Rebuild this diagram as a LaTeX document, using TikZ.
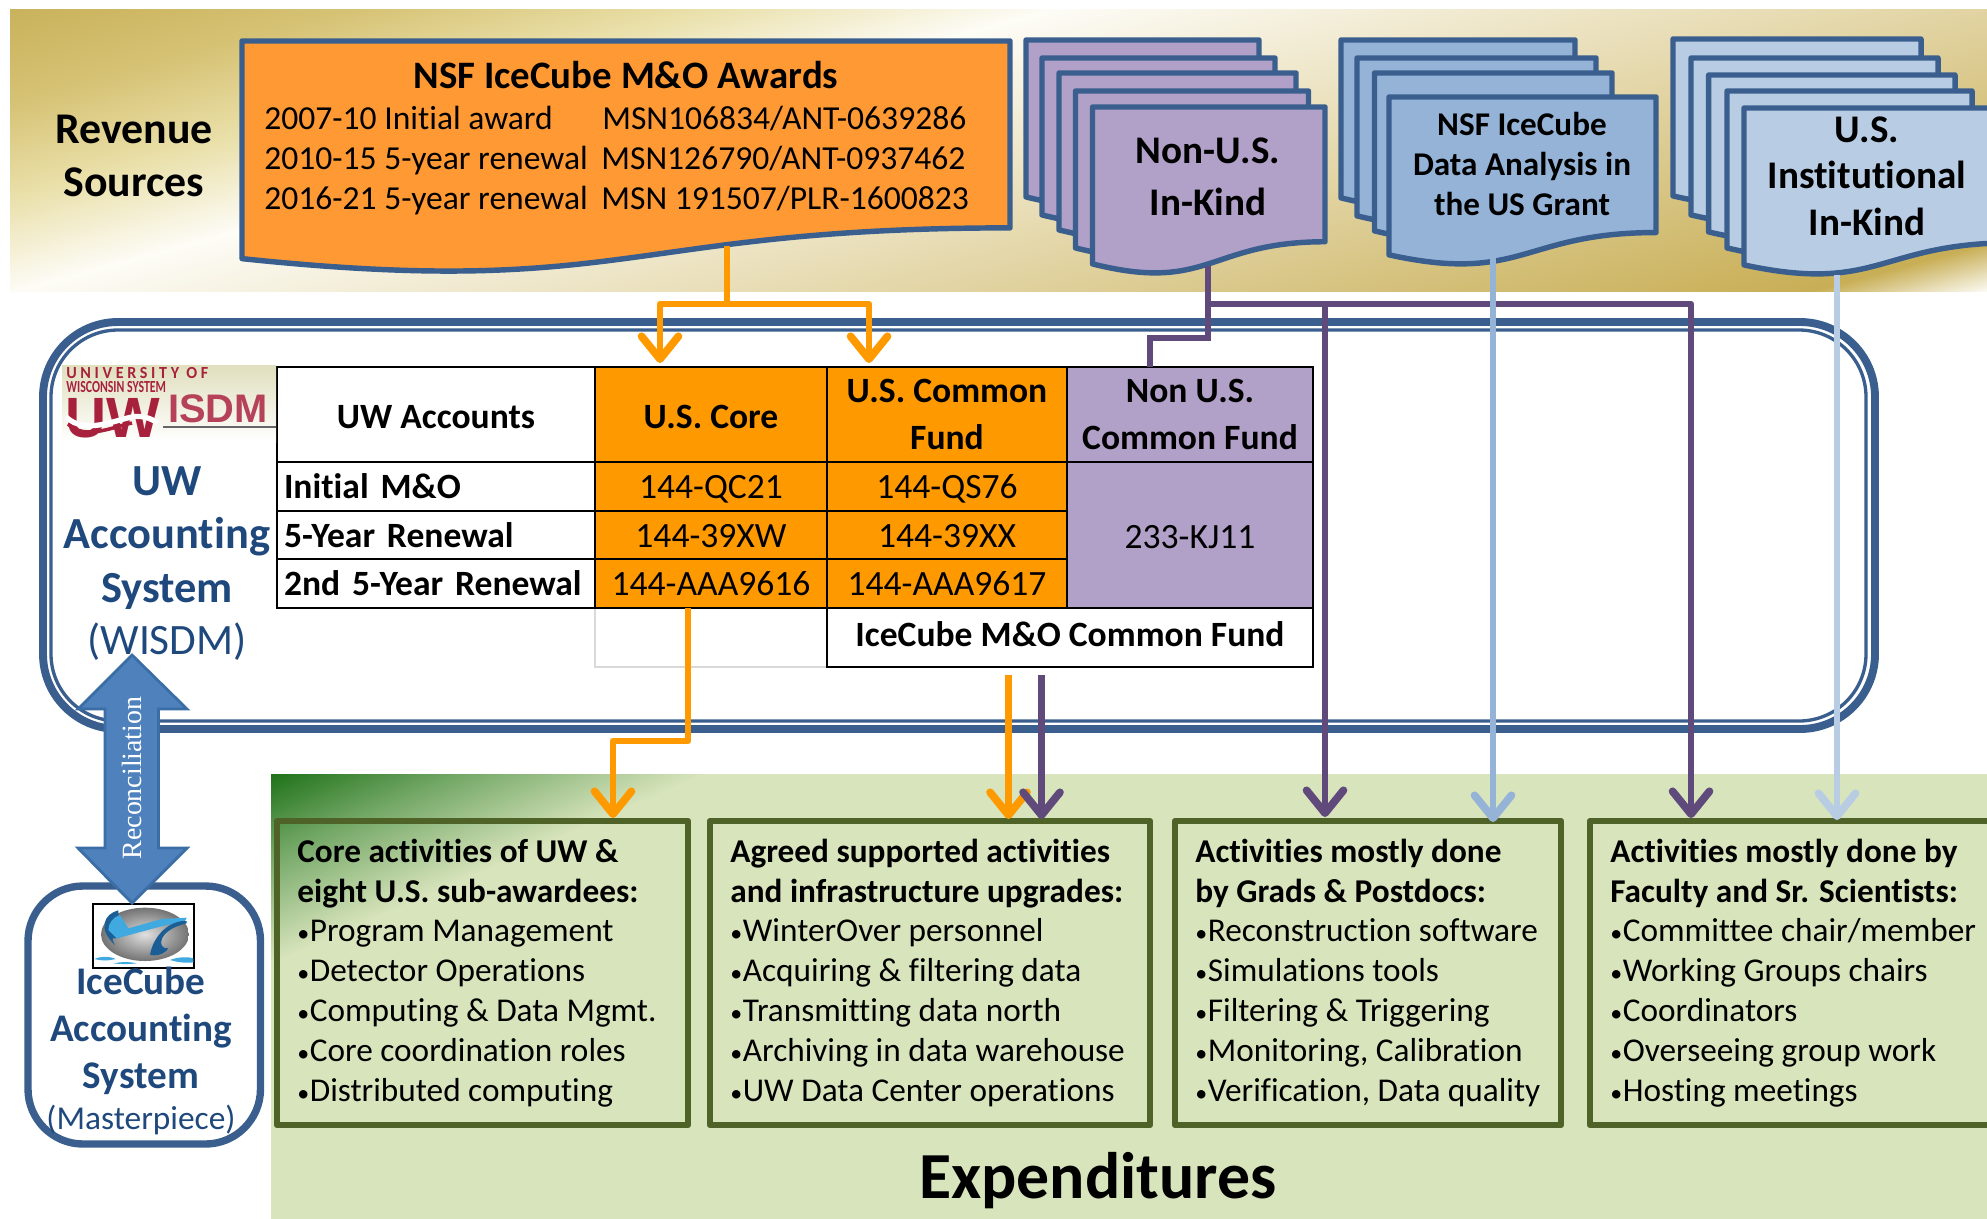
\documentclass[tikz,border=0pt]{standalone}
\usepackage{fontspec}
\setmainfont[Ligatures=NoCommon]{Carlito}
\newfontfamily\recfont{Liberation Serif}
\newfontfamily\logofont{Liberation Sans}
\usetikzlibrary{arrows.meta}
\newlength\ux \setlength\ux{0.02cm}
\newcommand\fpx[2]{\fontsize{\the\dimexpr#1pt*567/1000\relax}{\the\dimexpr#2pt*567/1000\relax}\selectfont}
\newcommand\bul{\makebox[12.5\ux][l]{\scalebox{.72}{•}}}
\newcommand\cs[2]{\raisebox{0pt}[#1\ux][0pt]{#2}}
\definecolor{navy}{HTML}{3A5F8E}
\definecolor{navytext}{HTML}{1F497D}
\definecolor{docorange}{HTML}{FF9933}
\definecolor{celorange}{HTML}{FF9900}
\definecolor{purp}{HTML}{B1A0C7}
\definecolor{purpline}{HTML}{604A7B}
\definecolor{blueA}{HTML}{95B3D7}
\definecolor{blueB}{HTML}{B8CCE4}
\definecolor{olive}{HTML}{4F6228}
\definecolor{arrowfill}{HTML}{4F81BD}
\definecolor{arrowedge}{HTML}{3A6EA5}
\definecolor{gA}{HTML}{C9B25C}
\definecolor{gB}{HTML}{D6C274}
\definecolor{gC}{HTML}{E9DFA8}
\definecolor{gD}{HTML}{FDFCF6}
\definecolor{gE}{HTML}{C8AE55}
\definecolor{gF}{HTML}{FBFAF2}
\definecolor{vA}{HTML}{1F7219}
\definecolor{vB}{HTML}{74A867}
\definecolor{vC}{HTML}{D8E4BC}
\definecolor{wisred}{HTML}{A8213C}
\definecolor{wisbg}{HTML}{E0DFBE}
\definecolor{mpdark}{HTML}{1B5E96}
\definecolor{mplight}{HTML}{3FA9E0}
\pgfdeclarehorizontalshading{bandgold}{100bp}{color(0bp)=(gA); color(40.1bp)=(gA); color(42.35bp)=(gB); color(44.6bp)=(gC); color(46.95bp)=(gD); color(58.75bp)=(gE); color(59.9bp)=(gF); color(100bp)=(gF)}
\pgfdeclarehorizontalshading{bandgreen}{100bp}{color(0bp)=(vA); color(36.3bp)=(vA); color(38.2bp)=(vB); color(40.65bp)=(vC); color(100bp)=(vC)}
\newcommand\docpath[5]{\path[#1] (#2,#3) -- ({#2+#4},#3) -- ({#2+#4},{#3+.802*#5}) .. controls ({#2+.5*#4},{#3+.802*#5}) and ({#2+.5*#4},{#3+1.1075*#5}) .. (#2,{#3+.934*#5}) -- cycle;}
\newcommand\cell[7]{\node[#6, minimum width={(#4-#2)*\ux}, minimum height={(#5-#3)*\ux}] (#1) at ({(#2+#4)/2},{(#3+#5)/2}) {#7};}
\tikzset{
  docpurp/.style={draw=navy,line width=3.1pt,line join=round,fill=purp},
  docblue/.style={draw=navy,line width=3.1pt,line join=round,fill=blueA},
  doclight/.style={draw=navy,line width=3.1pt,line join=round,fill=blueB},
  docorg/.style={draw=navy,line width=3.1pt,line join=round,fill=docorange},
  doctext/.style={font=\fpx{39.3}{46.5}\bfseries,align=center,inner sep=0},
  cellbase/.style={draw=black,line width=1.4pt,inner sep=0,outer sep=0,align=center,font=\fpx{35.7}{47}},
  rowlabel/.style={cellbase,fill=white,text width=304*\ux,inner xsep=7*\ux,align=left,font=\fpx{35.7}{47}\bfseries},
  orgcell/.style={cellbase,fill=celorange},
  purpcell/.style={cellbase,fill=purp},
  whitecell/.style={cellbase,fill=white},
  ghostcell/.style={draw=black!15,line width=1pt,inner sep=0},
  actbox/.style={draw=olive,line width=3.6pt,line join=round},
  acttext/.style={font=\fpx{33.4}{40},align=left,inner sep=0,anchor=north west},
  toptip/.style={-{Straight Barb[length=13pt,width=21pt,line width=4.4pt,round]},line join=round},
  orangeln/.style={draw=celorange,line width=3.9pt},
  purpln/.style={draw=purpline,line width=3.9pt},
  blueln/.style={draw=blueA,line width=3.4pt},
  lightln/.style={draw=blueB,line width=3.4pt},
  wisdmbox/.style={draw=navy,rounded corners=75*\ux},
  sysname/.style={align=center,text=navytext,inner sep=0},
}
\begin{document}
\begin{tikzpicture}[x=0.02cm,y=-0.02cm]
\useasboundingbox (0,0) rectangle (1987,1218);
\clip (0,0) rectangle (1987,1218);
% ---------- background bands
\begin{scope}
 \clip (10,9) rectangle (1987,291);
 \shade[shading=bandgold,shading angle=-74.8] (-2,-850) rectangle (1998,1150);
\end{scope}
\begin{scope}
 \clip (271,774) rectangle (1987,1218);
 \shade[shading=bandgreen,shading angle=-66.4] (129,-4) rectangle (2129,1996);
\end{scope}
% ---------- WISDM double frame
\draw[wisdmbox,line width=4.5pt] (43,322) rectangle (1875,729);
\draw[wisdmbox,line width=1.9pt,rounded corners=67*\ux] (51,330) rectangle (1866,721);
% ---------- Masterpiece frame
\draw[draw=navy,line width=4.2pt,fill=white,rounded corners=55*\ux] (28,886) rectangle (260.5,1144);
% ---------- revenue documents
\docpath{docorg}{242}{41}{768}{233}
\docpath{docpurp}{1026}{40}{233}{168}
\docpath{docpurp}{1042}{58}{233}{168}
\docpath{docpurp}{1059}{73}{237}{168}
\docpath{docpurp}{1075.5}{91}{233}{168}
\docpath{docpurp}{1092.5}{107}{232.5}{168}
\docpath{docblue}{1341}{40}{234}{169}
\docpath{docblue}{1357}{58}{239}{169}
\docpath{docblue}{1374.5}{73}{237.5}{169}
\docpath{docblue}{1389}{97}{267}{169}
\docpath{doclight}{1673}{39}{248}{168}
\docpath{doclight}{1691}{58}{247}{168}
\docpath{doclight}{1708.6}{75}{246.4}{168}
\docpath{doclight}{1727}{91}{245}{168}
\docpath{doclight}{1744}{108}{270}{168}
% ---------- free connector ends
\coordinate (orgOut) at (727,246);
\coordinate (orgJ) at (727,304);
\coordinate (tipCore) at (660,363);
\coordinate (tipComm) at (869,363);
\coordinate (purOut) at (1208,266);
\coordinate (purJ) at (1208,304);
\coordinate (purK) at (1208,338);
\coordinate (purTab) at (1150,367);
\coordinate (tipGrad) at (1325,817);
\coordinate (purBranch) at (1325,304);
\coordinate (tipFac) at (1691,818);
\coordinate (nsfOut) at (1493,258);
\coordinate (tipNsf) at (1493,822);
\coordinate (usOut) at (1837,275);
\coordinate (tipUs) at (1837,820);
\coordinate (coreOut) at (688,608);
\coordinate (coreJ) at (688,741);
\coordinate (tipAct) at (613,818);
\coordinate (cfOut) at (1008.5,675);
\coordinate (tipCf) at (1008.5,819);
\coordinate (cpOut) at (1041.5,675);
\coordinate (tipCp) at (1041.5,819);
% ---------- table
\cell{ghost}{595}{608}{827}{667}{ghostcell}{}
\cell{hdrA}{277}{367}{595}{462}{whitecell}{\cs{27}{\bfseries UW Accounts}}
\cell{usCore}{595}{367}{827}{462}{orgcell}{\cs{28}{\bfseries U.S. Core}}
\cell{usComm}{827}{367}{1067}{462}{orgcell}{\bfseries U.S. Common\\\bfseries Fund}
\cell{nonUS}{1067}{367}{1313}{462}{purpcell}{\bfseries Non U.S.\\\bfseries Common Fund}
\cell{rowA}{277}{462}{595}{511}{rowlabel}{Initial M\&O}
\cell{rowB}{277}{511}{595}{559}{rowlabel}{5-Year Renewal}
\cell{rowC}{277}{559}{595}{608}{rowlabel}{2nd 5-Year Renewal}
\cell{a1}{595}{462}{827}{511}{orgcell}{\cs{24}{144-QC21}}
\cell{a2}{827}{462}{1067}{511}{orgcell}{\cs{24}{144-QS76}}
\cell{b1}{595}{511}{827}{559}{orgcell}{\cs{25}{144-39XW}}
\cell{b2}{827}{511}{1067}{559}{orgcell}{\cs{25}{144-39XX}}
\cell{c1}{595}{559}{827}{608}{orgcell}{\cs{23}{144-AAA9616}}
\cell{c2}{827}{559}{1067}{608}{orgcell}{\cs{23}{144-AAA9617}}
\cell{kj}{1067}{462}{1313}{608}{purpcell}{\cs{27}{233-KJ11}}
\cell{cfund}{827}{608}{1313}{667}{whitecell}{\cs{18}{\bfseries IceCube M\&O Common Fund}}
% ---------- activity boxes
\draw[actbox] (277,821) rectangle (688,1125);
\draw[actbox] (710,821) rectangle (1150,1125);
\draw[actbox] (1175,821) rectangle (1561,1125);
\draw[actbox] (1590,821) rectangle (2010,1125);
% ---------- connectors
\draw[orangeln] (orgOut) -- (orgJ);
\draw[orangeln,toptip] (orgJ) -| (tipCore);
\draw[orangeln,toptip] (orgJ) -| (tipComm);
\draw[purpln] (purOut) -- (purK) -| (purTab);
\draw[purpln] (purJ) -- (purBranch);
\draw[purpln,toptip] (purBranch) -| (tipFac);
\draw[purpln,toptip] (purBranch) -- (tipGrad);
\draw[blueln,toptip] (nsfOut) -- (tipNsf);
\draw[lightln,toptip] (usOut) -- (tipUs);
\draw[orangeln,toptip] (coreOut) -- (coreJ) -| (tipAct);
\draw[orangeln,toptip] (cfOut) -- (tipCf);
\draw[purpln,toptip] (cpOut) -- (tipCp);
% ---------- WISDM logo
\shade[top color=wisbg,bottom color=white] (62,365) rectangle (276,442);
\node[inner sep=0,anchor=north west,align=left,text=wisred,font=\fpx{17}{14}\bfseries] (wisU) at (66,367) {\scalebox{.95}[1]{U N I V E R S I T Y\ \ O F}\\\scalebox{.7}[1]{WISCONSIN SYSTEM}};
\node[inner sep=0,text=wisred,font=\logofont\fpx{57}{57}\bfseries] (wisUW) at (113,418) {UW};
\draw[white,line width=3pt] (66,417) .. controls (85,435) and (115,420) .. (132,417) .. controls (142,415) and (150,418) .. (158,423);
\draw[wisred,line width=2pt] (68,424) .. controls (85,441) and (115,426) .. (132,423);
\node[inner sep=0,text=wisred!85,font=\logofont\fpx{40}{40}\bfseries] (wisD) at (218,409) {ISDM};
\draw[black!60,line width=1pt] (163,427) -- (276,427);
% ---------- Masterpiece logo
\draw[black,line width=.8pt,fill=white] (93,904) rectangle (194,968);
\begin{scope}[shift={(85,895)},x=0.00667cm,y=-0.00667cm]
 \shade[inner color=black!12,outer color=black!55] (180,118) ellipse [x radius=132,y radius=80];
 \fill[mpdark] (100,46) .. controls (60,55) and (35,100) .. (90,150) .. controls (85,140) and (75,125) .. (92,130) -- (215,95) -- (115,105) .. controls (100,85) and (100,65) .. (100,46) -- cycle;
 \fill[mplight] (105,60) -- (130,100) -- (230,72) -- (305,68) -- (300,78) -- (225,95) -- (95,130) -- (70,105) .. controls (70,85) and (85,65) .. (105,60) -- cycle;
 \fill[mpdark] (305,78) .. controls (255,75) and (205,120) .. (195,180) .. controls (225,185) and (245,170) .. (250,160) .. controls (215,165) and (215,105) .. (305,85) -- cycle;
 \fill[mplight] (28,192) .. controls (50,182) and (80,185) .. (92,192) .. controls (70,198) and (50,198) .. (28,192) -- cycle;
 \fill[mplight] (255,195) .. controls (280,185) and (310,185) .. (325,190) -- (325,202) .. controls (300,205) and (280,202) .. (255,195) -- cycle;
 \fill[mplight] (85,205) .. controls (110,200) and (135,200) .. (155,205) .. controls (130,208) and (110,208) .. (85,205) -- cycle;
\end{scope}
% ---------- reconciliation arrow
\coordinate (recTop) at (132,655);
\coordinate (recBot) at (132,903);
\fill[arrowfill,draw=arrowedge,line width=1.6pt,line join=miter] (recTop) -- (187,709) -- (158.5,709) -- (158.5,848) -- (187,848) -- (recBot) -- (78,848) -- (105,848) -- (105,709) -- (78,709) -- cycle;
\node[rotate=90,inner sep=0,text=white,font=\recfont\fpx{28}{28}] (recText) at (132,778) {Reconciliation};
% ---------- texts
\node[inner sep=0,align=center,font=\fpx{44}{53}\bfseries] (rev) at (134,156) {Revenue\\Sources};
\node[inner sep=0,font=\fpx{39}{40}\bfseries] (awT) at (626,75) {NSF IceCube M\&O Awards};
\node[inner sep=0,anchor=north west,align=left,font=\fpx{33.7}{40}] (awB) at (264,106) {\makebox[338\ux][l]{2007-10 Initial award}MSN106834/ANT-0639286\\\makebox[337\ux][l]{2010-15 5-year renewal}MSN126790/ANT-0937462\\\makebox[337\ux][l]{2016-21 5-year renewal}MSN 191507/PLR-1600823};
\node[doctext,font=\fpx{39.3}{52}\bfseries] (nonT) at (1208,177) {Non-U.S.\\In-Kind};
\node[doctext,font=\fpx{33.3}{40}\bfseries] (nsfT) at (1522,164) {NSF IceCube\\Data Analysis in\\the US Grant};
\node[doctext] (usT) at (1867,176) {U.S.\\Institutional\\In-Kind};
\node[sysname,font=\fpx{44.6}{54}\bfseries] (uwT) at (167,538) {UW\\Accounting\\System};
\node[sysname,font=\fpx{43.5}{54}] (uwP) at (167,642) {(WISDM)};
\node[sysname,font=\fpx{39.3}{47}\bfseries] (msT) at (141,1031) {IceCube\\Accounting\\System};
\node[sysname,font=\fpx{33.5}{40}] (msP) at (141,1120) {(Masterpiece)};
\node[acttext] (actA) at (297,838.5) {\textbf{Core activities of UW \&}\\\textbf{eight U.S. sub-awardees:}\\\bul Program Management\\\bul Detector Operations\\\bul Computing \& Data Mgmt.\\\bul Core coordination roles\\\bul Distributed computing};
\node[acttext] (actB) at (730,838.5) {\textbf{Agreed supported activities}\\\textbf{and infrastructure upgrades:}\\\bul WinterOver personnel\\\bul Acquiring \& filtering data\\\bul Transmitting data north\\\bul Archiving in data warehouse\\\bul UW Data Center operations};
\node[acttext] (actC) at (1195,838.5) {\textbf{Activities mostly done}\\\textbf{by Grads \& Postdocs:}\\\bul Reconstruction software\\\bul Simulations tools\\\bul Filtering \& Triggering\\\bul Monitoring, Calibration\\\bul Verification, Data quality};
\node[acttext] (actD) at (1610,838.5) {\textbf{Activities mostly done by}\\\textbf{Faculty and Sr. Scientists:}\\\bul Committee chair/member\\\bul Working Groups chairs\\\bul Coordinators\\\bul Overseeing group work\\\bul Hosting meetings};
\node[inner sep=0,font=\fpx{66}{66}\bfseries] (expT) at (1098,1181) {Expenditures};
\end{tikzpicture}
\end{document}
